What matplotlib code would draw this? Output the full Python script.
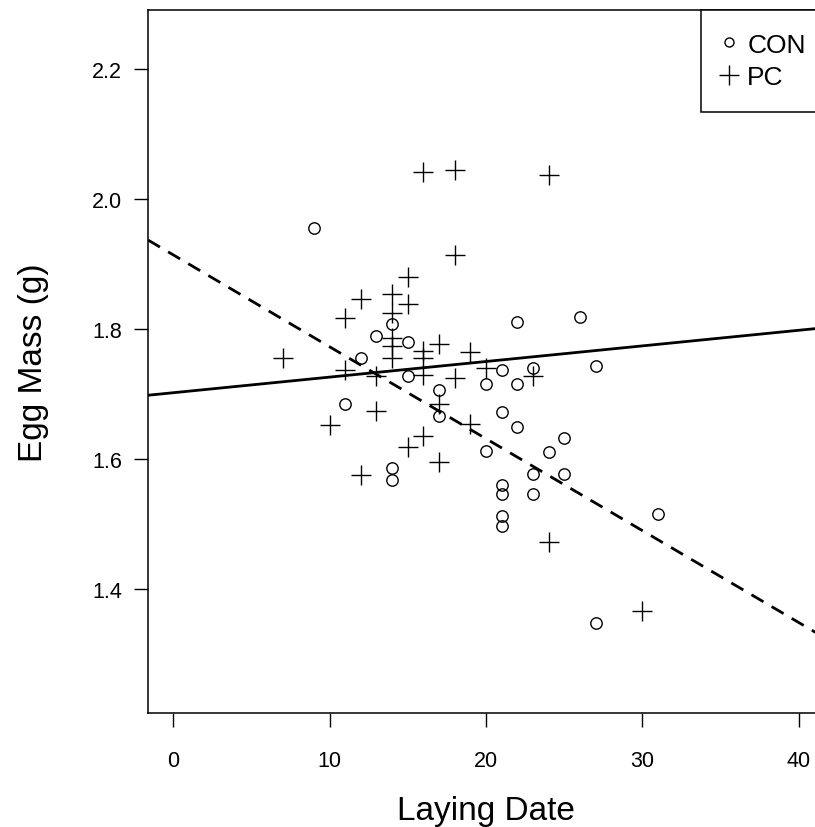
import matplotlib
matplotlib.use("Agg")
import matplotlib.pyplot as plt
from matplotlib.lines import Line2D

plt.rcParams["font.family"] = ["Liberation Sans", "DejaVu Sans"]

# laying date (day) and egg mass (g)
con_date = [9, 12, 11, 13, 14, 14, 14, 15, 15, 17, 17, 20, 20, 21, 21, 21,
            21, 21, 21, 22, 22, 22, 23, 23, 23, 24, 25, 25, 26, 27, 27, 31]
con_mass = [1.955, 1.756, 1.684, 1.789, 1.808, 1.586, 1.568, 1.780, 1.728,
            1.706, 1.667, 1.715, 1.613, 1.737, 1.672, 1.560, 1.546, 1.512,
            1.498, 1.810, 1.715, 1.650, 1.740, 1.577, 1.546, 1.611, 1.633,
            1.577, 1.819, 1.743, 1.349, 1.516]

pc_date = [7, 10, 11, 11, 12, 12, 13, 13, 14, 14, 14, 14, 14, 15, 15, 15, 16,
           16, 16, 16, 16, 17, 17, 17, 18, 18, 18, 19, 19, 20, 23, 24, 24, 30]
pc_mass = [1.756, 1.653, 1.817, 1.737, 1.846, 1.575, 1.728, 1.674, 1.853,
           1.825, 1.786, 1.774, 1.756, 1.880, 1.839, 1.619, 2.041, 1.766,
           1.756, 1.729, 1.635, 1.777, 1.684, 1.596, 2.044, 1.914, 1.724,
           1.764, 1.654, 1.740, 1.728, 2.037, 1.472, 1.366]

# fitted lines: (intercept, slope)
solid_fit = (1.702, 0.0024)
dashed_fit = (1.914, -0.01413)

x_ticks = [0, 10, 20, 30, 40]
y_ticks = [1.4, 1.6, 1.8, 2.0, 2.2]

fig = plt.figure(figsize=(8.15, 8.28), dpi=100)
ax = fig.add_axes([148 / 815, 114 / 828, 676 / 815, 703 / 828])

ax.plot(con_date, con_mass, "o", ms=8.2, mfc="none", mec="black", mew=1.0,
        ls="none", clip_on=False)
ax.plot(pc_date, pc_mass, "+", ms=14, mec="black", mew=1.0, ls="none",
        clip_on=False)

ax.axline((0, solid_fit[0]), slope=solid_fit[1], color="black", lw=2)
ax.axline((0, dashed_fit[0]), slope=dashed_fit[1], color="black", lw=2,
          ls=(0, (5, 3.4)))

ax.set_xlim(-1.6, 41.6)
ax.set_ylim(1.21, 2.29)
ax.set_xticks(x_ticks)
ax.set_yticks(y_ticks)
ax.set_yticklabels([f"{v:.1f}" for v in y_ticks])
ax.tick_params(axis="both", direction="out", length=10, width=1,
               labelsize=15.5)
ax.tick_params(axis="x", pad=17)
ax.tick_params(axis="y", pad=8.5)
for spine in ax.spines.values():
    spine.set_linewidth(1.1)

ax.set_xlabel("Laying Date", fontsize=24, labelpad=17)
ax.set_ylabel("Egg Mass (g)", fontsize=24, labelpad=31)

handles = [
    Line2D([], [], marker="o", ms=6.5, mfc="none", mec="black", mew=1.0, ls="none"),
    Line2D([], [], marker="+", ms=14, mec="black", mew=1.0, ls="none"),
]
# the box runs past the cropped right edge, as in the reference
leg = ax.legend(handles, ["CON", "PC"], loc="upper right",
                bbox_to_anchor=(1.0064, 1.0), borderaxespad=0,
                fontsize=19, frameon=True, fancybox=False, framealpha=1,
                edgecolor="black", handlelength=0.35, handletextpad=0.53,
                borderpad=0.86, labelspacing=0.31)
leg.get_frame().set_linewidth(1.1)

fig.savefig("out.png", dpi=100)
